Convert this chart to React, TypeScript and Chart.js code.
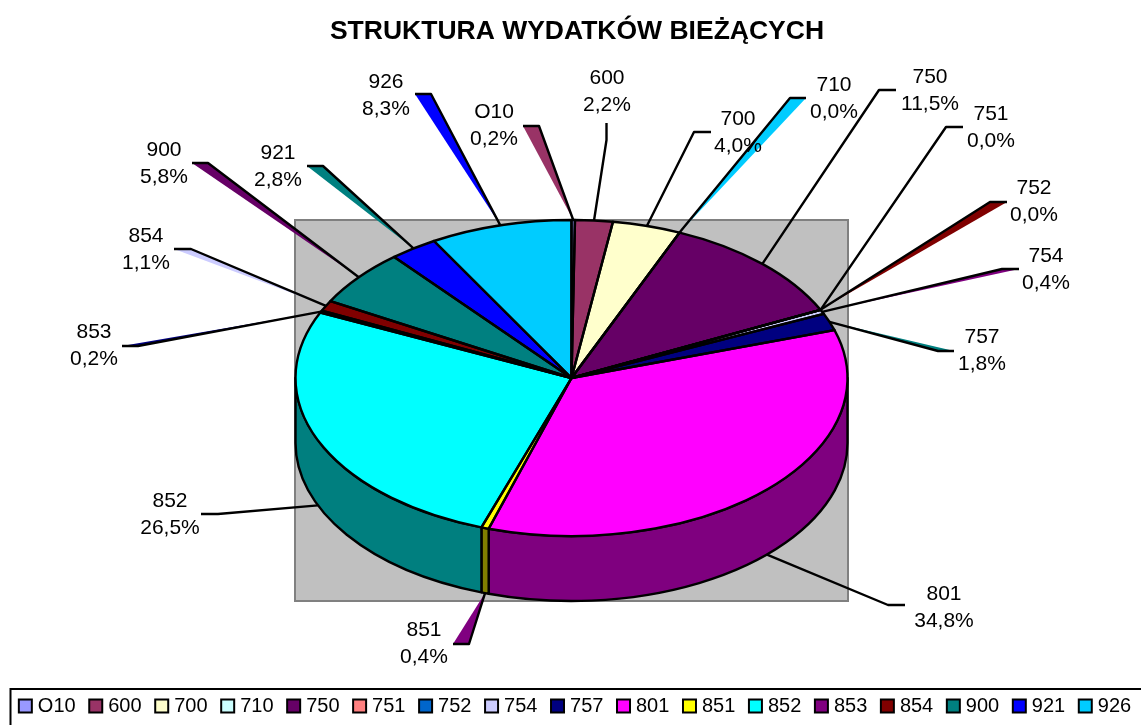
import React, { useEffect, useRef } from "react";
import { Chart, registerables } from "chart.js";

Chart.register(...registerables);

const FONT = "'Liberation Sans', Arial, sans-serif";

const categories = ["O10", "600", "700", "710", "750", "751", "752", "754", "757", "801", "851", "852", "853", "854", "900", "921", "926"];
const shares = [0.2, 2.2, 4.0, 0.0, 11.5, 0.0, 0.0, 0.44, 1.75, 34.75, 0.44, 26.5, 0.2, 1.1, 5.8, 2.8, 8.3];
const sliceColors = ["#9999FF", "#993366", "#FFFFCC", "#CCFFFF", "#660066", "#FF8080", "#0066CC", "#CCCCFF", "#000080", "#FF00FF", "#FFFF00", "#00FFFF", "#800080", "#800000", "#008080", "#0000FF", "#00CCFF"];

// Leader-line decoration and label placement, per category
const sliverColors = ["#993366", null, null, "#00CCFF", null, null, "#800000", "#800080", "#008080", null, "#800080", null, "#000080", "#CCCCFF", "#660066", "#008080", "#0000FF"];
const leaderElbows = [[539, 126], [606.5, 140], [694, 132], [790, 98], [879, 90], [946, 127], [990, 202], [1002, 269], [938, 351], [888, 605], [469, 644], [218, 514], [138, 346], [191, 249], [208, 163], [323, 166], [431, 94]];
const leaderEnds = [[523, 126], [606.5, 123], [711, 132], [806, 98], [896, 90], [963, 127], [1007, 202], [1019, 269], [954, 351], [905, 605], [453, 644], [201, 514], [122, 346], [174, 249], [192, 163], [307, 166], [415, 94]];
const labelCenters = [[494, 112], [607, 78], [738, 119], [834, 85], [930, 77], [991, 114], [1034, 188], [1046, 256], [982, 337], [944, 594], [424, 630], [170, 501], [94, 332], [146, 236], [164, 150], [278, 153], [386, 82]];
const LABEL_LINE = 27.5;

const pieFrame = { cx: 571.5, cy: 378, rx: 276, ry: 158, depth: 65 };
const plotRect = { left: 295, top: 220, right: 848, bottom: 601 };
const legendFrame = { left: 10.5, top: 689 };
const LINE = 2.4;

function darken(hex: string) {
  const v = [1, 3, 5].map((i) => Math.floor(parseInt(hex.slice(i, i + 2), 16) / 2));
  return `rgb(${v[0]},${v[1]},${v[2]})`;
}

function arcs(chart: any) {
  return chart.getDatasetMeta(0).data.map((el: any) => el.getProps(["x", "y", "startAngle", "endAngle", "outerRadius"], true));
}

const pie3d = {
  id: "pie3d",
  afterLayout(chart: any) {
    chart.legend.top += 1;
    chart.legend.bottom += 1;
  },
  beforeDatasetsDraw(chart: any) {
    const ctx = chart.ctx;
    const { cx, cy, rx, ry, depth } = pieFrame;
    ctx.save();
    // plot background
    ctx.fillStyle = "#C0C0C0";
    ctx.strokeStyle = "#808080";
    ctx.lineWidth = 2;
    ctx.fillRect(plotRect.left, plotRect.top, plotRect.right - plotRect.left, plotRect.bottom - plotRect.top);
    ctx.strokeRect(plotRect.left, plotRect.top, plotRect.right - plotRect.left, plotRect.bottom - plotRect.top);

    const list = arcs(chart);
    // leaders
    ctx.lineJoin = "round";
    list.forEach((a: any, i: number) => {
      const mid = (a.startAngle + a.endAngle) / 2;
      const ax = cx + rx * Math.cos(mid);
      const ay = cy + ry * Math.sin(mid) + (Math.sin(mid) > 0 ? depth : 0);
      const [ex, ey] = leaderElbows[i];
      const [sx, sy] = leaderEnds[i];
      const sliver = sliverColors[i];
      if (sliver) {
        ctx.fillStyle = sliver;
        ctx.beginPath();
        ctx.moveTo(ax, ay);
        ctx.lineTo(ex, ey);
        ctx.lineTo(sx, sy);
        ctx.closePath();
        ctx.fill();
      }
      ctx.strokeStyle = "#000";
      ctx.lineWidth = LINE;
      ctx.beginPath();
      ctx.moveTo(ax, ay);
      ctx.lineTo(ex, ey);
      ctx.lineTo(sx, sy);
      ctx.stroke();
    });

    // side wall: the front half of each slice
    list.forEach((a: any, i: number) => {
      const s = a.startAngle;
      const e = a.endAngle;
      if (e - s <= 0) return;
      const lo = Math.max(s, 0);
      const hi = Math.min(e, Math.PI);
      if (hi <= lo) return;
      ctx.beginPath();
      ctx.ellipse(cx, cy, rx, ry, 0, lo, hi);
      ctx.ellipse(cx, cy + depth, rx, ry, 0, hi, lo, true);
      ctx.closePath();
      ctx.fillStyle = darken(sliceColors[i]);
      ctx.fill();
      ctx.strokeStyle = "#000";
      ctx.lineWidth = LINE;
      ctx.stroke();
    });
    ctx.restore();
  },
  beforeDatasetDraw(chart: any) {
    const ctx = chart.ctx;
    const { cx, cy, rx, ry } = pieFrame;
    const a = arcs(chart)[0];
    const sx = rx / a.outerRadius;
    const sy = ry / a.outerRadius;
    ctx.save();
    ctx.setTransform(sx, 0, 0, sy, cx - a.x * sx, cy - a.y * sy);
  },
  afterDatasetDraw(chart: any) {
    const ctx = chart.ctx;
    ctx.restore();
    const { cx, cy, rx, ry } = pieFrame;
    ctx.save();
    ctx.strokeStyle = "#000";
    ctx.lineWidth = LINE;
    ctx.lineJoin = "round";
    arcs(chart).forEach((a: any) => {
      ctx.beginPath();
      ctx.moveTo(cx, cy);
      ctx.ellipse(cx, cy, rx, ry, 0, a.startAngle, a.endAngle);
      ctx.closePath();
      ctx.stroke();
    });
    ctx.restore();
  },
  afterDraw(chart: any) {
    const ctx = chart.ctx;
    ctx.save();
    // data labels
    ctx.fillStyle = "#000";
    ctx.font = `21px ${FONT}`;
    ctx.textAlign = "center";
    ctx.textBaseline = "middle";
    categories.forEach((name, i) => {
      const [x, y] = labelCenters[i];
      ctx.fillText(name, x, y);
      ctx.fillText(shares[i].toFixed(1).replace(".", ",") + "%", x, y + LABEL_LINE);
    });
    // legend frame (runs off the page at right and bottom)
    ctx.strokeStyle = "#000";
    ctx.lineWidth = 2;
    ctx.strokeRect(legendFrame.left, legendFrame.top, chart.width, 60);
    ctx.restore();
  },
};

export default function App() {
  const ref = useRef<HTMLCanvasElement | null>(null);
  useEffect(() => {
    const chart = new Chart(ref.current as HTMLCanvasElement, {
      type: "pie",
      data: {
        labels: categories,
        datasets: [{ data: shares, backgroundColor: sliceColors, borderWidth: 0, clip: false } as any],
      },
      options: {
        responsive: false,
        animation: false,
        layout: { padding: { left: -50, right: -63, top: 0, bottom: 0 } },
        plugins: {
          tooltip: { enabled: false },
          title: {
            display: true,
            text: "STRUKTURA WYDATKÓW BIEŻĄCYCH",
            color: "#000",
            font: { family: FONT, size: 26.5, weight: "bold" },
            padding: { top: 16, bottom: 5 },
          },
          legend: {
            display: true,
            position: "bottom",
            labels: {
              usePointStyle: true,
              boxWidth: 5,
              boxHeight: 13,
              padding: 17.6,
              color: "#000",
              font: { family: FONT, size: 20 },
              generateLabels: () =>
                categories.map((text, i) => ({
                  text,
                  index: i,
                  fillStyle: sliceColors[i],
                  strokeStyle: "#000",
                  lineWidth: 2,
                  pointStyle: "rect",
                  hidden: false,
                })),
            },
          },
        },
      } as any,
      plugins: [pie3d as any],
    });
    return () => chart.destroy();
  }, []);
  return (
    <canvas
      ref={ref}
      width={1141}
      height={725}
      style={{ position: "absolute", left: 0, top: 0, display: "block" }}
    />
  );
}
